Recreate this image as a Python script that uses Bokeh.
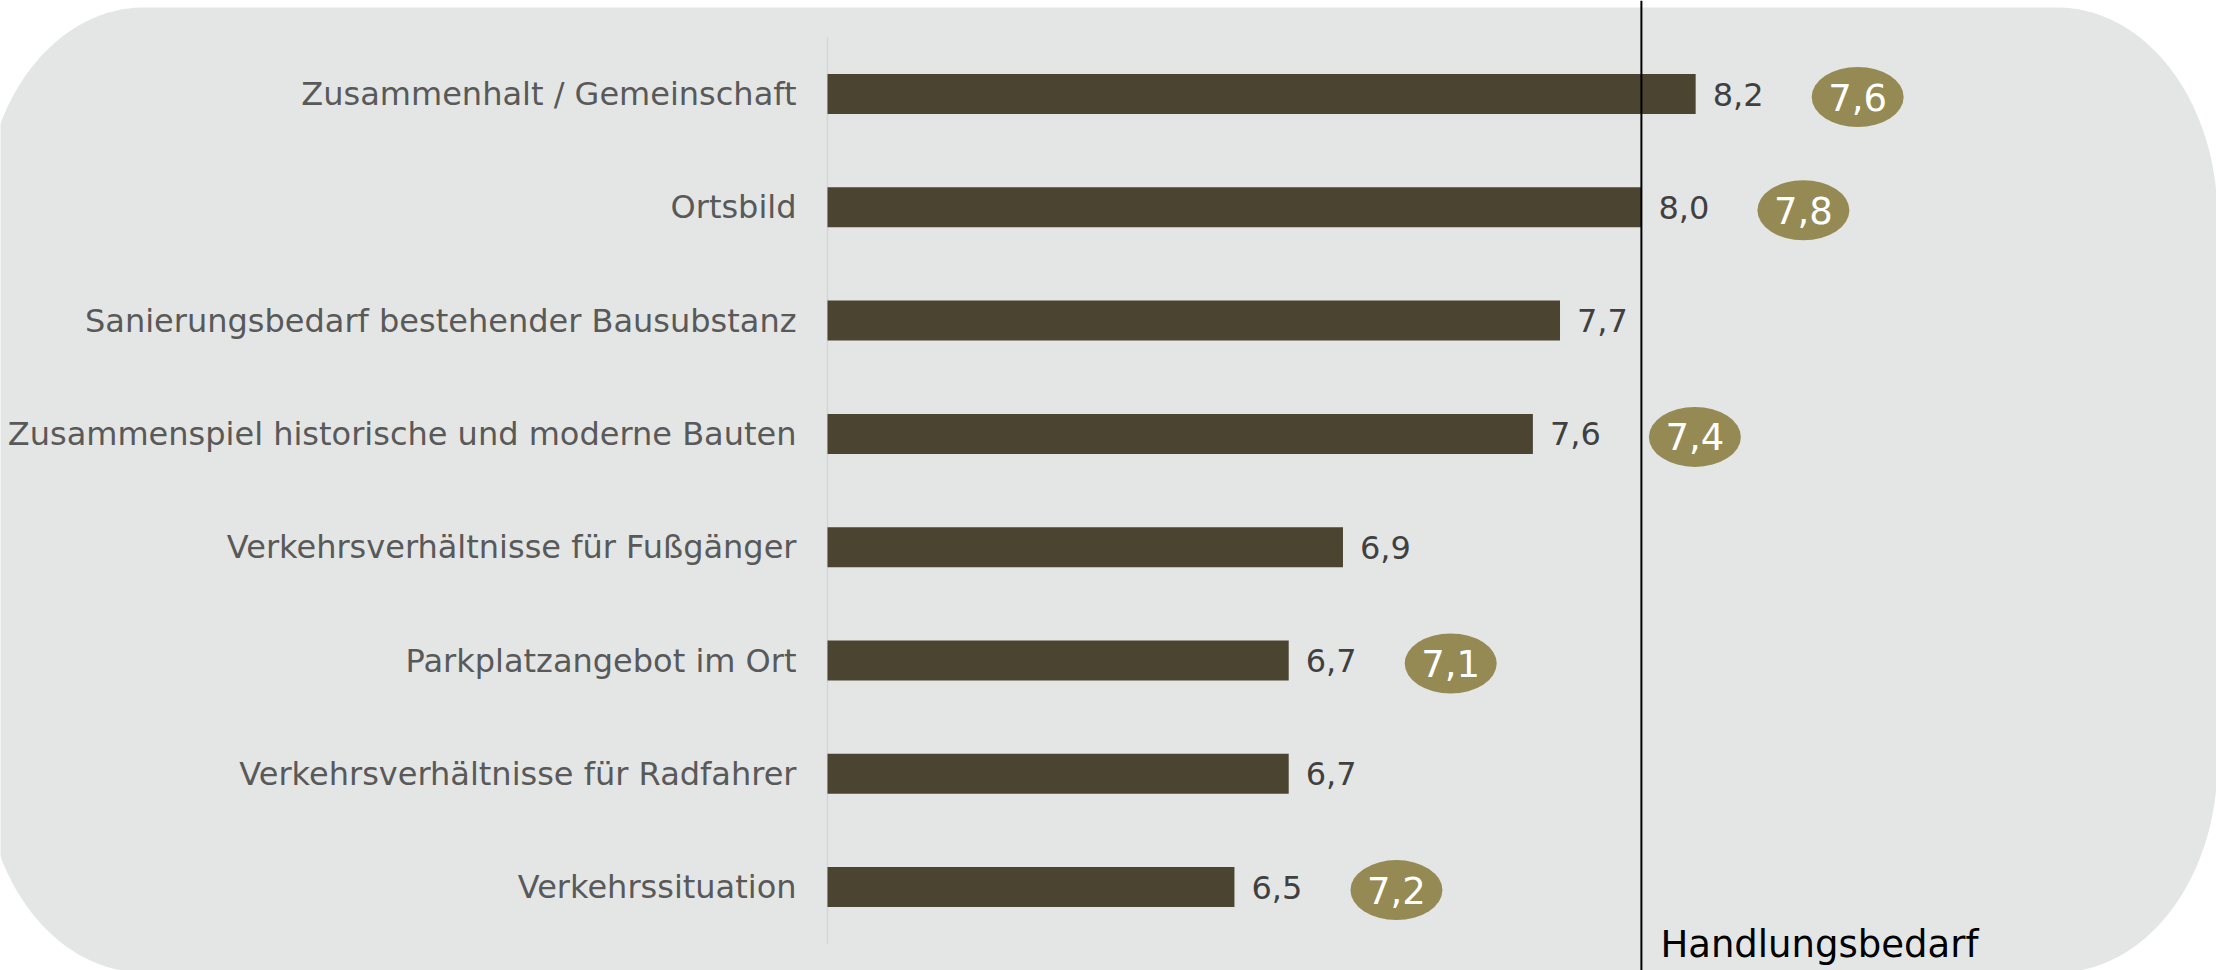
import numpy as np
from bokeh.plotting import figure
from bokeh.models import Range1d, ColumnDataSource, Span, Label
from bokeh.core.properties import value
from bokeh.embed import file_html
from bokeh.resources import INLINE

# ---------------- data ----------------
categories = [
    "Zusammenhalt / Gemeinschaft",
    "Ortsbild",
    "Sanierungsbedarf bestehender Bausubstanz",
    "Zusammenspiel historische und moderne Bauten",
    "Verkehrsverhältnisse für Fußgänger",
    "Parkplatzangebot im Ort",
    "Verkehrsverhältnisse für Radfahrer",
    "Verkehrssituation",
]
scores = [8.2, 8.0, 7.7, 7.6, 6.9, 6.7, 6.7, 6.5]
previous = [7.6, 7.8, None, 7.4, None, 7.1, None, 7.2]
threshold = 8.0
threshold_label = "Handlungsbedarf"
axis_start = 5.0

# ---------------- layout ----------------
W, H = 2216, 970
X_AXIS_PX = 827               # px where axis_start sits
UNIT_PX = 271.3               # px per score unit
ROW_PX = 113.3                # px per category row
ROW0_PX = 93.5                # centre of first row
BAR_H = 40 / ROW_PX
ELL_DX_PX = 162
ELL_DY_PX = 3
LABEL_BASELINE_PX = 944

FONT = value("DejaVu Sans")
BG = "#E4E6E5"
BAR = "#4A4430"
ELL = "#958A53"

x_start = axis_start - X_AXIS_PX / UNIT_PX
x_end = x_start + W / UNIT_PX
y_top = -ROW0_PX / ROW_PX
y_bottom = y_top + H / ROW_PX


def px_x(fx):
    return x_start + np.asarray(fx) / UNIT_PX


def px_y(fy):
    return y_top + np.asarray(fy) / ROW_PX


def rounded(L, T, R, B, rx, ry, n=60):
    xs, ys = [], []
    for cx, cy, a0 in [(R - rx, T + ry, -np.pi / 2), (R - rx, B - ry, 0.0),
                       (L + rx, B - ry, np.pi / 2), (L + rx, T + ry, np.pi)]:
        t = np.linspace(a0, a0 + np.pi / 2, n)
        xs += list(cx + rx * np.cos(t))
        ys += list(cy + ry * np.sin(t))
    return np.array(xs), np.array(ys)


p = figure(width=W, height=H,
           x_range=Range1d(x_start, x_end), y_range=Range1d(y_bottom, y_top),
           output_backend="svg", toolbar_location=None,
           x_axis_location=None, y_axis_location=None,
           min_border=0, outline_line_color=None,
           background_fill_color="white", border_fill_color="white")
p.grid.visible = False

# rounded background
bx, by = rounded(-17, 7, 2217, 972, 160, 210)
p.patch(px_x(bx), px_y(by), fill_color=BG, line_color=None)

ys = list(range(len(categories)))
src = ColumnDataSource(dict(
    y=ys, cat=categories, score=scores,
    lab=[f"{v:.1f}".replace(".", ",") for v in scores],
))

# vertical axis line
p.segment(x0=axis_start, y0=-0.5, x1=axis_start, y1=len(categories) - 0.5,
          line_color="#D4D6D5", line_width=1.5)

# bars
p.hbar(y="y", left=axis_start, right="score", height=BAR_H, source=src,
       fill_color=BAR, line_color=None)

# category labels
p.text(x=axis_start, y="y", text="cat", source=src, x_offset=-31,
       text_align="right", text_baseline="middle", text_font=FONT,
       text_font_size="32px", text_color="#595959")

# value labels
p.text(x="score", y="y", text="lab", source=src, x_offset=17,
       text_align="left", text_baseline="middle", text_font=FONT,
       text_font_size="32px", text_color="#404040")

# previous-value ellipses
ey, ex, el = [], [], []
for i, (s, pv) in enumerate(zip(scores, previous)):
    if pv is None:
        continue
    ey.append(i + ELL_DY_PX / ROW_PX)
    ex.append(s + ELL_DX_PX / UNIT_PX)
    el.append(f"{pv:.1f}".replace(".", ","))
esrc = ColumnDataSource(dict(x=ex, y=ey, lab=el))
p.ellipse(x="x", y="y", width=92, height=60, width_units="screen",
          height_units="screen", source=esrc, fill_color=ELL, line_color=None)
p.text(x="x", y="y", text="lab", source=esrc, text_align="center",
       text_baseline="middle", text_font=FONT, text_font_size="37px",
       text_color="white")

# threshold line + label
p.add_layout(Span(location=threshold, dimension="height", line_color="black",
                  line_width=2))
p.add_layout(Label(x=threshold, y=H - LABEL_BASELINE_PX, x_units="data", y_units="screen",
                   text=threshold_label, x_offset=19, text_align="left",
                   text_baseline="alphabetic", text_font="DejaVu Sans",
                   text_font_size="37px", text_color="black"))

open("out.html", "w").write(file_html(p, INLINE))
